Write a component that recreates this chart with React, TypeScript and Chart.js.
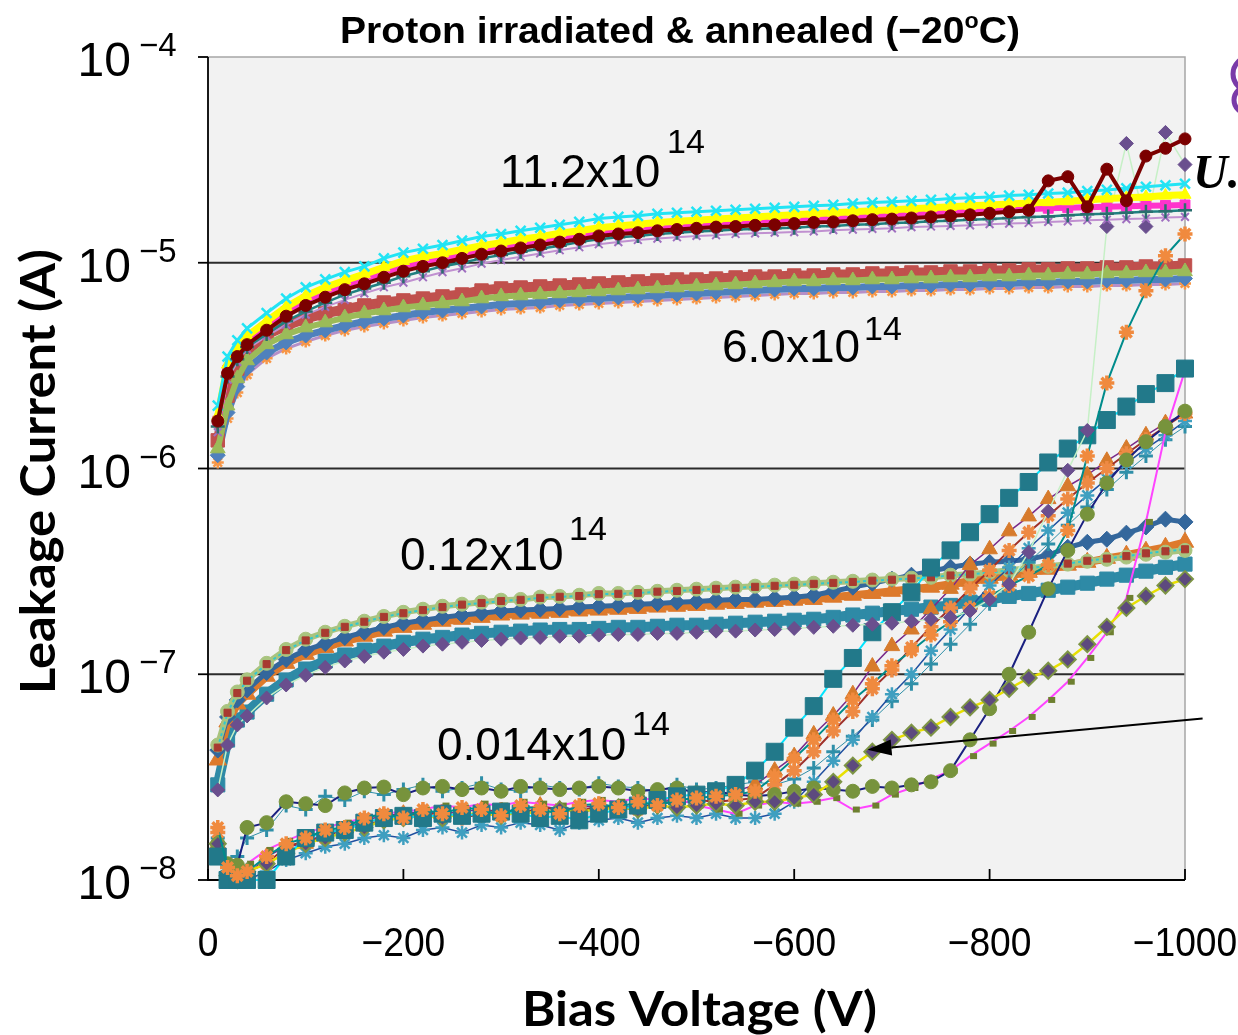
import React, { useEffect, useRef } from 'react';
import { Chart, registerables } from 'chart.js';

Chart.register(...registerables);

// ---------------- data ----------------
const VOLTAGE = [-10, -20, -30, -40, -60, -80, -100, -120, -140, -160, -180, -200, -220, -240, -260, -280, -300, -320, -340, -360, -380, -400, -420, -440, -460, -480, -500, -520, -540, -560, -580, -600, -620, -640, -660, -680, -700, -720, -740, -760, -780, -800, -820, -840, -860, -880, -900, -920, -940, -960, -980, -1000];

const Y_DECADES = [1e-8, 1e-7, 1e-6, 1e-5, 1e-4];
const Y_EXPONENTS = ['−8', '−7', '−6', '−5', '−4'];
const X_TICKS = [0, -200, -400, -600, -800, -1000];

// 11.2x10^14 group
const A1_CYAN = [2.02e-6, 3.5e-6, 4.2e-6, 4.8e-6, 5.7e-6, 6.7e-6, 7.6e-6, 8.3e-6, 9.0e-6, 9.6e-6, 1.05e-5, 1.12e-5, 1.17e-5, 1.22e-5, 1.28e-5, 1.34e-5, 1.38e-5, 1.43e-5, 1.48e-5, 1.53e-5, 1.58e-5, 1.64e-5, 1.67e-5, 1.69e-5, 1.73e-5, 1.75e-5, 1.77e-5, 1.79e-5, 1.81e-5, 1.83e-5, 1.85e-5, 1.87e-5, 1.89e-5, 1.91e-5, 1.94e-5, 1.96e-5, 1.98e-5, 2.0e-5, 2.02e-5, 2.05e-5, 2.07e-5, 2.09e-5, 2.12e-5, 2.14e-5, 2.17e-5, 2.19e-5, 2.23e-5, 2.26e-5, 2.3e-5, 2.34e-5, 2.38e-5, 2.42e-5];
const A2_YELLOW = [1.8e-6, 3.2e-6, 3.9e-6, 4.4e-6, 5.2e-6, 6.1e-6, 6.9e-6, 7.6e-6, 8.2e-6, 8.8e-6, 9.5e-6, 1.02e-5, 1.07e-5, 1.11e-5, 1.16e-5, 1.21e-5, 1.25e-5, 1.30e-5, 1.34e-5, 1.39e-5, 1.43e-5, 1.48e-5, 1.51e-5, 1.54e-5, 1.57e-5, 1.59e-5, 1.61e-5, 1.63e-5, 1.65e-5, 1.67e-5, 1.69e-5, 1.71e-5, 1.73e-5, 1.75e-5, 1.77e-5, 1.79e-5, 1.81e-5, 1.83e-5, 1.85e-5, 1.87e-5, 1.89e-5, 1.91e-5, 1.93e-5, 1.95e-5, 1.97e-5, 1.99e-5, 2.02e-5, 2.05e-5, 2.07e-5, 2.09e-5, 2.12e-5, 2.14e-5];
const A3_MAGENTA = [1.7e-6, 3.0e-6, 3.7e-6, 4.2e-6, 4.9e-6, 5.8e-6, 6.6e-6, 7.2e-6, 7.8e-6, 8.3e-6, 9.0e-6, 9.6e-6, 1.01e-5, 1.05e-5, 1.10e-5, 1.15e-5, 1.19e-5, 1.23e-5, 1.27e-5, 1.31e-5, 1.36e-5, 1.40e-5, 1.43e-5, 1.46e-5, 1.49e-5, 1.51e-5, 1.53e-5, 1.55e-5, 1.57e-5, 1.59e-5, 1.61e-5, 1.62e-5, 1.64e-5, 1.66e-5, 1.68e-5, 1.70e-5, 1.71e-5, 1.73e-5, 1.75e-5, 1.76e-5, 1.78e-5, 1.79e-5, 1.81e-5, 1.82e-5, 1.84e-5, 1.85e-5, 1.86e-5, 1.87e-5, 1.88e-5, 1.89e-5, 1.90e-5, 1.91e-5];
const A4_DARKRED = [1.7e-6, 2.9e-6, 3.5e-6, 4.0e-6, 4.7e-6, 5.5e-6, 6.2e-6, 6.8e-6, 7.4e-6, 7.9e-6, 8.5e-6, 9.1e-6, 9.6e-6, 1.00e-5, 1.05e-5, 1.10e-5, 1.14e-5, 1.18e-5, 1.22e-5, 1.26e-5, 1.30e-5, 1.35e-5, 1.38e-5, 1.40e-5, 1.43e-5, 1.45e-5, 1.47e-5, 1.49e-5, 1.50e-5, 1.52e-5, 1.53e-5, 1.55e-5, 1.57e-5, 1.58e-5, 1.60e-5, 1.62e-5, 1.63e-5, 1.65e-5, 1.67e-5, 1.69e-5, 1.71e-5, 1.74e-5, 1.77e-5, 1.80e-5, 2.50e-5, 2.62e-5, 1.87e-5, 2.85e-5, 2.00e-5, 3.30e-5, 3.60e-5, 4.00e-5];
const A5_TEAL = [1.6e-6, 2.8e-6, 3.4e-6, 3.9e-6, 4.5e-6, 5.2e-6, 5.8e-6, 6.4e-6, 7.0e-6, 7.5e-6, 8.0e-6, 8.6e-6, 9.1e-6, 9.6e-6, 1.00e-5, 1.05e-5, 1.09e-5, 1.13e-5, 1.17e-5, 1.21e-5, 1.26e-5, 1.30e-5, 1.33e-5, 1.35e-5, 1.38e-5, 1.40e-5, 1.42e-5, 1.43e-5, 1.45e-5, 1.46e-5, 1.47e-5, 1.48e-5, 1.50e-5, 1.51e-5, 1.53e-5, 1.54e-5, 1.56e-5, 1.57e-5, 1.59e-5, 1.60e-5, 1.62e-5, 1.63e-5, 1.65e-5, 1.67e-5, 1.68e-5, 1.70e-5, 1.72e-5, 1.73e-5, 1.75e-5, 1.77e-5, 1.78e-5, 1.80e-5];
const A6_PURPLE = [1.5e-6, 2.7e-6, 3.3e-6, 3.8e-6, 4.4e-6, 5.0e-6, 5.6e-6, 6.1e-6, 6.6e-6, 7.1e-6, 7.6e-6, 8.0e-6, 8.5e-6, 9.0e-6, 9.4e-6, 9.9e-6, 1.03e-5, 1.07e-5, 1.11e-5, 1.15e-5, 1.19e-5, 1.23e-5, 1.26e-5, 1.29e-5, 1.31e-5, 1.33e-5, 1.35e-5, 1.36e-5, 1.38e-5, 1.39e-5, 1.40e-5, 1.41e-5, 1.42e-5, 1.44e-5, 1.45e-5, 1.46e-5, 1.47e-5, 1.49e-5, 1.50e-5, 1.51e-5, 1.52e-5, 1.54e-5, 1.55e-5, 1.56e-5, 1.58e-5, 1.59e-5, 1.61e-5, 1.62e-5, 1.63e-5, 1.64e-5, 1.66e-5, 1.67e-5];

// 6.0x10^14 group
const B1_RED = [1.37e-6, 2.26e-6, 3.06e-6, 3.75e-6, 4.48e-6, 4.95e-6, 5.36e-6, 5.67e-6, 5.93e-6, 6.20e-6, 6.41e-6, 6.56e-6, 6.70e-6, 6.86e-6, 7.01e-6, 7.33e-6, 7.50e-6, 7.58e-6, 7.67e-6, 7.75e-6, 7.84e-6, 7.93e-6, 8.02e-6, 8.11e-6, 8.20e-6, 8.29e-6, 8.29e-6, 8.38e-6, 8.48e-6, 8.57e-6, 8.57e-6, 8.67e-6, 8.67e-6, 8.77e-6, 8.77e-6, 8.87e-6, 8.87e-6, 8.97e-6, 8.97e-6, 9.07e-6, 9.07e-6, 9.17e-6, 9.17e-6, 9.28e-6, 9.28e-6, 9.38e-6, 9.38e-6, 9.49e-6, 9.49e-6, 9.59e-6, 9.59e-6, 9.70e-6];
const B2_GREEN = [1.25e-6, 2.02e-6, 2.74e-6, 3.35e-6, 4.01e-6, 4.48e-6, 4.84e-6, 5.12e-6, 5.42e-6, 5.67e-6, 5.86e-6, 6.06e-6, 6.20e-6, 6.34e-6, 6.48e-6, 6.70e-6, 6.86e-6, 6.93e-6, 7.01e-6, 7.09e-6, 7.17e-6, 7.25e-6, 7.33e-6, 7.41e-6, 7.50e-6, 7.58e-6, 7.67e-6, 7.75e-6, 7.84e-6, 7.93e-6, 8.02e-6, 8.11e-6, 8.11e-6, 8.20e-6, 8.20e-6, 8.29e-6, 8.29e-6, 8.38e-6, 8.38e-6, 8.48e-6, 8.48e-6, 8.57e-6, 8.57e-6, 8.67e-6, 8.67e-6, 8.77e-6, 8.77e-6, 8.87e-6, 8.87e-6, 8.97e-6, 8.97e-6, 9.07e-6];
const B3_BLUE = [1.16e-6, 1.87e-6, 2.50e-6, 3.06e-6, 3.66e-6, 4.10e-6, 4.43e-6, 4.69e-6, 4.95e-6, 5.18e-6, 5.36e-6, 5.54e-6, 5.73e-6, 5.86e-6, 5.99e-6, 6.13e-6, 6.27e-6, 6.34e-6, 6.41e-6, 6.56e-6, 6.63e-6, 6.70e-6, 6.78e-6, 6.86e-6, 6.93e-6, 7.01e-6, 7.09e-6, 7.17e-6, 7.25e-6, 7.33e-6, 7.41e-6, 7.50e-6, 7.50e-6, 7.58e-6, 7.58e-6, 7.67e-6, 7.67e-6, 7.75e-6, 7.75e-6, 7.84e-6, 7.84e-6, 7.93e-6, 7.93e-6, 8.02e-6, 8.02e-6, 8.11e-6, 8.11e-6, 8.20e-6, 8.20e-6, 8.29e-6, 8.29e-6, 8.38e-6];
const B4_ORANGE = [1.07e-6, 1.75e-6, 2.34e-6, 2.86e-6, 3.43e-6, 3.83e-6, 4.14e-6, 4.43e-6, 4.69e-6, 4.90e-6, 5.07e-6, 5.24e-6, 5.42e-6, 5.54e-6, 5.67e-6, 5.80e-6, 5.93e-6, 5.99e-6, 6.06e-6, 6.20e-6, 6.27e-6, 6.34e-6, 6.41e-6, 6.48e-6, 6.56e-6, 6.63e-6, 6.70e-6, 6.78e-6, 6.86e-6, 6.93e-6, 7.01e-6, 7.09e-6, 7.09e-6, 7.17e-6, 7.17e-6, 7.25e-6, 7.25e-6, 7.33e-6, 7.33e-6, 7.41e-6, 7.41e-6, 7.50e-6, 7.50e-6, 7.58e-6, 7.58e-6, 7.67e-6, 7.67e-6, 7.75e-6, 7.75e-6, 7.84e-6, 7.84e-6, 7.93e-6];

// 0.12x10^14 group
const C1_LIGHTGREEN = [4.53e-8, 6.6e-8, 8.2e-8, 9.4e-8, 1.13e-7, 1.32e-7, 1.48e-7, 1.6e-7, 1.71e-7, 1.81e-7, 1.91e-7, 2.0e-7, 2.07e-7, 2.14e-7, 2.19e-7, 2.24e-7, 2.29e-7, 2.31e-7, 2.37e-7, 2.39e-7, 2.42e-7, 2.47e-7, 2.47e-7, 2.5e-7, 2.53e-7, 2.56e-7, 2.59e-7, 2.62e-7, 2.65e-7, 2.68e-7, 2.71e-7, 2.74e-7, 2.77e-7, 2.8e-7, 2.83e-7, 2.87e-7, 2.9e-7, 2.93e-7, 2.96e-7, 3.03e-7, 3.06e-7, 3.13e-7, 3.2e-7, 3.28e-7, 3.35e-7, 3.43e-7, 3.54e-7, 3.62e-7, 3.71e-7, 3.83e-7, 3.92e-7, 4.0e-7];
const C2_REDSQ = [4.4e-8, 6.5e-8, 8.1e-8, 9.3e-8, 1.12e-7, 1.31e-7, 1.46e-7, 1.59e-7, 1.7e-7, 1.8e-7, 1.9e-7, 1.98e-7, 2.05e-7, 2.12e-7, 2.18e-7, 2.22e-7, 2.27e-7, 2.3e-7, 2.35e-7, 2.38e-7, 2.4e-7, 2.45e-7, 2.46e-7, 2.48e-7, 2.52e-7, 2.54e-7, 2.57e-7, 2.6e-7, 2.63e-7, 2.66e-7, 2.69e-7, 2.72e-7, 2.75e-7, 2.78e-7, 2.81e-7, 2.85e-7, 2.88e-7, 2.92e-7, 2.96e-7, 3.02e-7, 3.06e-7, 3.12e-7, 3.2e-7, 3.28e-7, 3.36e-7, 3.45e-7, 3.56e-7, 3.65e-7, 3.75e-7, 3.87e-7, 3.96e-7, 4.05e-7];
const C3_BLUE = [4.28e-8, 6.2e-8, 7.5e-8, 8.4e-8, 1.02e-7, 1.18e-7, 1.31e-7, 1.41e-7, 1.51e-7, 1.6e-7, 1.69e-7, 1.77e-7, 1.83e-7, 1.89e-7, 1.94e-7, 1.98e-7, 2.03e-7, 2.05e-7, 2.07e-7, 2.09e-7, 2.12e-7, 2.14e-7, 2.16e-7, 2.19e-7, 2.21e-7, 2.24e-7, 2.26e-7, 2.29e-7, 2.31e-7, 2.31e-7, 2.34e-7, 2.37e-7, 2.42e-7, 2.53e-7, 2.65e-7, 2.77e-7, 2.9e-7, 3.03e-7, 3.17e-7, 3.31e-7, 3.43e-7, 3.5e-7, 3.54e-7, 3.62e-7, 3.79e-7, 4.14e-7, 4.38e-7, 4.53e-7, 4.85e-7, 5.2e-7, 5.67e-7, 5.5e-7];
const C4_ORANGE = [3.83e-8, 5.86e-8, 7.17e-8, 8.0e-8, 9.78e-8, 1.13e-7, 1.25e-7, 1.35e-7, 1.45e-7, 1.53e-7, 1.62e-7, 1.69e-7, 1.75e-7, 1.81e-7, 1.85e-7, 1.89e-7, 1.94e-7, 1.96e-7, 1.98e-7, 2.0e-7, 2.03e-7, 2.05e-7, 2.07e-7, 2.09e-7, 2.12e-7, 2.14e-7, 2.16e-7, 2.19e-7, 2.21e-7, 2.24e-7, 2.26e-7, 2.29e-7, 2.31e-7, 2.37e-7, 2.42e-7, 2.47e-7, 2.53e-7, 2.59e-7, 2.65e-7, 2.74e-7, 2.83e-7, 2.93e-7, 3.03e-7, 3.13e-7, 3.24e-7, 3.39e-7, 3.5e-7, 3.66e-7, 3.79e-7, 3.96e-7, 4.14e-7, 4.38e-7];
const C5_TEAL = [2.9e-8, 4.79e-8, 5.99e-8, 6.55e-8, 8.0e-8, 9.38e-8, 1.06e-7, 1.16e-7, 1.24e-7, 1.31e-7, 1.37e-7, 1.43e-7, 1.48e-7, 1.51e-7, 1.55e-7, 1.58e-7, 1.6e-7, 1.62e-7, 1.64e-7, 1.65e-7, 1.65e-7, 1.67e-7, 1.69e-7, 1.69e-7, 1.71e-7, 1.73e-7, 1.73e-7, 1.75e-7, 1.77e-7, 1.79e-7, 1.81e-7, 1.83e-7, 1.85e-7, 1.89e-7, 1.94e-7, 1.98e-7, 2.03e-7, 2.07e-7, 2.12e-7, 2.16e-7, 2.24e-7, 2.31e-7, 2.39e-7, 2.47e-7, 2.56e-7, 2.65e-7, 2.77e-7, 2.9e-7, 3.03e-7, 3.17e-7, 3.31e-7, 3.43e-7];
const C6_PURPLE = [2.74e-8, 4.53e-8, 5.67e-8, 6.27e-8, 7.67e-8, 8.87e-8, 9.89e-8, 1.08e-7, 1.16e-7, 1.22e-7, 1.28e-7, 1.32e-7, 1.37e-7, 1.4e-7, 1.43e-7, 1.46e-7, 1.48e-7, 1.5e-7, 1.51e-7, 1.53e-7, 1.53e-7, 1.55e-7, 1.56e-7, 1.56e-7, 1.58e-7, 1.58e-7, 1.6e-7, 1.62e-7, 1.62e-7, 1.64e-7, 1.65e-7, 1.67e-7, 1.69e-7, 1.71e-7, 1.73e-7, 1.75e-7, 1.77e-7, 1.81e-7, 1.85e-7, 1.89e-7, 2.03e-7, 2.31e-7, 2.74e-7, 3.92e-7, 6.2e-7, 9.8e-7, 1.53e-6, 1.5e-5, 3.8e-5, 1.5e-5, 4.3e-5, 3.0e-5];

// 0.014x10^14 group
const D1_TEALSQ = [1.3e-8, 1.0e-8, 1.0e-8, 1.0e-8, 1.0e-8, 1.3e-8, 1.6e-8, 1.7e-8, 1.75e-8, 1.9e-8, 2.0e-8, 2.05e-8, 2.0e-8, 2.1e-8, 2.05e-8, 2.1e-8, 2.15e-8, 2.1e-8, 2.0e-8, 2.05e-8, 1.95e-8, 2.1e-8, 2.2e-8, 2.3e-8, 2.45e-8, 2.55e-8, 2.6e-8, 2.7e-8, 2.9e-8, 3.4e-8, 4.2e-8, 5.5e-8, 7.0e-8, 9.5e-8, 1.2e-7, 1.6e-7, 2.0e-7, 2.5e-7, 3.3e-7, 4.0e-7, 4.9e-7, 6.0e-7, 7.2e-7, 8.6e-7, 1.07e-6, 1.25e-6, 1.45e-6, 1.72e-6, 2.0e-6, 2.3e-6, 2.6e-6, 3.06e-6];
const D2_STAR_TEALLINE = [1.8e-8, 1.15e-8, 1.05e-8, 1.1e-8, 1.3e-8, 1.5e-8, 1.6e-8, 1.75e-8, 1.8e-8, 2.0e-8, 2.1e-8, 2.0e-8, 2.2e-8, 2.1e-8, 2.25e-8, 2.2e-8, 2.05e-8, 2.3e-8, 2.2e-8, 2.1e-8, 2.3e-8, 2.35e-8, 2.25e-8, 2.4e-8, 2.3e-8, 2.45e-8, 2.5e-8, 2.55e-8, 2.6e-8, 2.7e-8, 3.2e-8, 3.9e-8, 4.8e-8, 6.0e-8, 7.5e-8, 9.0e-8, 1.1e-7, 1.3e-7, 1.55e-7, 1.8e-7, 2.1e-7, 2.4e-7, 2.7e-7, 3.0e-7, 3.4e-7, 5.0e-7, 1.15e-6, 2.6e-6, 4.6e-6, 7.3e-6, 1.08e-5, 1.38e-5];
const D3_STAR_BROWNLINE = [1.7e-8, 1.05e-8, 1.0e-8, 1.1e-8, 1.2e-8, 1.45e-8, 1.55e-8, 1.6e-8, 1.8e-8, 1.85e-8, 1.95e-8, 2.1e-8, 2.05e-8, 2.15e-8, 2.0e-8, 2.1e-8, 2.2e-8, 2.1e-8, 2.25e-8, 2.2e-8, 2.15e-8, 2.3e-8, 2.25e-8, 2.2e-8, 2.4e-8, 2.35e-8, 2.45e-8, 2.4e-8, 2.45e-8, 2.5e-8, 2.9e-8, 3.4e-8, 4.2e-8, 5.3e-8, 6.6e-8, 8.5e-8, 1.05e-7, 1.35e-7, 1.7e-7, 2.1e-7, 2.6e-7, 3.2e-7, 4.0e-7, 4.9e-7, 5.9e-7, 7.1e-7, 8.5e-7, 1.0e-6, 1.18e-6, 1.38e-6, 1.6e-6, 1.85e-6];
const D4_TRIANGLE = [1.5e-8, 1.0e-8, 1.0e-8, 1.05e-8, 1.3e-8, 1.45e-8, 1.5e-8, 1.7e-8, 1.75e-8, 1.95e-8, 2.05e-8, 2.1e-8, 2.15e-8, 2.1e-8, 2.15e-8, 2.2e-8, 2.15e-8, 2.2e-8, 2.3e-8, 2.2e-8, 2.25e-8, 2.3e-8, 2.2e-8, 2.35e-8, 2.4e-8, 2.45e-8, 2.5e-8, 2.55e-8, 2.7e-8, 2.9e-8, 3.4e-8, 4.0e-8, 5.1e-8, 6.3e-8, 8.0e-8, 1.09e-7, 1.37e-7, 1.65e-7, 2.07e-7, 2.6e-7, 3.4e-7, 4.05e-7, 4.95e-7, 5.85e-7, 7.1e-7, 8.2e-7, 9.3e-7, 1.09e-6, 1.25e-6, 1.45e-6, 1.66e-6, 1.85e-6];
const D5_LIGHTBLUE = [1.4e-8, 1.0e-8, 1.0e-8, 1.0e-8, 1.1e-8, 1.25e-8, 1.35e-8, 1.45e-8, 1.5e-8, 1.6e-8, 1.65e-8, 1.6e-8, 1.75e-8, 1.8e-8, 1.7e-8, 1.85e-8, 1.8e-8, 1.9e-8, 1.85e-8, 1.75e-8, 1.9e-8, 1.95e-8, 2.0e-8, 1.9e-8, 2.0e-8, 2.05e-8, 2.0e-8, 2.1e-8, 2.0e-8, 2.0e-8, 2.1e-8, 2.4e-8, 3.0e-8, 3.8e-8, 4.8e-8, 6.2e-8, 8.0e-8, 1.0e-7, 1.3e-7, 1.65e-7, 2.1e-7, 2.7e-7, 3.3e-7, 4.1e-7, 5.0e-7, 6.1e-7, 7.4e-7, 8.9e-7, 1.06e-6, 1.25e-6, 1.45e-6, 1.7e-6];
const D6_DIAMOND = [1.5e-8, 1.05e-8, 1.0e-8, 1.1e-8, 1.2e-8, 1.35e-8, 1.5e-8, 1.6e-8, 1.7e-8, 1.8e-8, 1.95e-8, 2.0e-8, 2.05e-8, 2.0e-8, 2.1e-8, 2.1e-8, 2.05e-8, 2.15e-8, 2.1e-8, 2.2e-8, 2.15e-8, 2.2e-8, 2.25e-8, 2.2e-8, 2.3e-8, 2.25e-8, 2.3e-8, 2.35e-8, 2.3e-8, 2.4e-8, 2.4e-8, 2.5e-8, 2.6e-8, 3.0e-8, 3.6e-8, 4.2e-8, 4.8e-8, 5.2e-8, 5.5e-8, 6.2e-8, 6.9e-8, 7.5e-8, 8.5e-8, 9.6e-8, 1.04e-7, 1.18e-7, 1.4e-7, 1.7e-7, 2.1e-7, 2.4e-7, 2.7e-7, 2.9e-7];
const D7_OLIVE = [1.5e-8, 1.2e-8, 1.18e-8, 1.8e-8, 1.9e-8, 2.4e-8, 2.35e-8, 2.3e-8, 2.65e-8, 2.8e-8, 2.83e-8, 2.6e-8, 2.8e-8, 2.85e-8, 2.75e-8, 2.8e-8, 2.7e-8, 2.85e-8, 2.8e-8, 2.75e-8, 2.8e-8, 2.85e-8, 2.8e-8, 2.7e-8, 2.75e-8, 2.8e-8, 2.65e-8, 2.7e-8, 2.6e-8, 2.55e-8, 2.6e-8, 2.7e-8, 2.8e-8, 2.75e-8, 2.7e-8, 2.85e-8, 2.8e-8, 2.9e-8, 3.0e-8, 3.4e-8, 4.8e-8, 6.8e-8, 1.0e-7, 1.6e-7, 2.6e-7, 4.0e-7, 6.0e-7, 8.5e-7, 1.1e-6, 1.35e-6, 1.6e-6, 1.9e-6];
const D8_TEALPLUS = [1.6e-8, 1.1e-8, 1.3e-8, 1.6e-8, 1.75e-8, 2.3e-8, 2.2e-8, 2.55e-8, 2.45e-8, 2.7e-8, 2.6e-8, 2.75e-8, 2.9e-8, 2.7e-8, 2.8e-8, 2.95e-8, 2.75e-8, 2.7e-8, 2.9e-8, 2.8e-8, 2.75e-8, 2.95e-8, 2.85e-8, 2.8e-8, 2.7e-8, 2.9e-8, 2.75e-8, 2.8e-8, 2.9e-8, 3.0e-8, 2.9e-8, 3.1e-8, 3.5e-8, 4.2e-8, 5.0e-8, 6.0e-8, 7.4e-8, 9.0e-8, 1.12e-7, 1.4e-7, 1.75e-7, 2.2e-7, 2.8e-7, 3.5e-7, 4.3e-7, 5.3e-7, 6.5e-7, 7.9e-7, 9.6e-7, 1.15e-6, 1.38e-6, 1.6e-6];
const D9_OLIVEDASH = [1.3e-8, 1.0e-8, 1.05e-8, 1.2e-8, 1.4e-8, 1.55e-8, 1.7e-8, 1.8e-8, 1.9e-8, 2.0e-8, 2.1e-8, 2.15e-8, 2.2e-8, 2.3e-8, 2.25e-8, 2.35e-8, 2.3e-8, 2.4e-8, 2.35e-8, 2.3e-8, 2.4e-8, 2.45e-8, 2.4e-8, 2.5e-8, 2.45e-8, 2.5e-8, 2.3e-8, 2.2e-8, 2.1e-8, 2.3e-8, 2.4e-8, 2.35e-8, 2.4e-8, 2.5e-8, 2.2e-8, 2.3e-8, 2.6e-8, 2.8e-8, 3.1e-8, 3.4e-8, 4.0e-8, 4.6e-8, 5.3e-8, 6.2e-8, 7.5e-8, 9.2e-8, 1.2e-7, 1.6e-7, 2.35e-7, 5.5e-7, 1.5e-6, 3.0e-6];

// arrow annotation (data coordinates: voltage, current)
const ARROW_TAIL = { v: -1018, i: 6.1e-8 };
const ARROW_TIP = { v: -675, i: 4.3e-8 };

// ---------------- styles ----------------
type Style = {
  data: number[];
  marker: string;
  r: number;
  fill: string;
  stroke: string;
  bw: number;
  line: string;
  lw: number;
  dash?: number[];
};

// first entry is drawn on top
const SERIES: Style[] = [
  { data: A4_DARKRED, marker: 'circle', r: 6, fill: '#7b0000', stroke: '#7b0000', bw: 1, line: '#7b0000', lw: 4 },
  { data: A5_TEAL, marker: 'cross', r: 7, fill: '#2a6e6e', stroke: '#2a6e6e', bw: 2.5, line: '#1f8080', lw: 2.5 },
  { data: A1_CYAN, marker: 'crossRot', r: 7, fill: '#22e4f4', stroke: '#22e4f4', bw: 2.5, line: '#22e4f4', lw: 3 },
  { data: A2_YELLOW, marker: 'triangle', r: 7, fill: '#ffff00', stroke: '#ffff00', bw: 1, line: '#ffff00', lw: 7 },
  { data: A3_MAGENTA, marker: 'rect', r: 7, fill: '#ff33cc', stroke: '#ff33cc', bw: 1, line: '#ff33cc', lw: 6 },
  { data: A6_PURPLE, marker: 'crossRot', r: 5.5, fill: '#a070c0', stroke: '#a070c0', bw: 2, line: '#c090d0', lw: 2 },
  { data: C6_PURPLE, marker: 'rectRot', r: 7, fill: '#6a4f8e', stroke: '#6a4f8e', bw: 1, line: '#c6f0c6', lw: 1.5 },
  { data: D2_STAR_TEALLINE, marker: 'star', r: 7.5, fill: '#f79646', stroke: '#f08a3e', bw: 3.5, line: '#008c8c', lw: 2 },
  { data: D1_TEALSQ, marker: 'rect', r: 12, fill: '#22798a', stroke: '#22798a', bw: 1, line: '#00e5ff', lw: 2 },
  { data: D6_DIAMOND, marker: 'rectRot', r: 8, fill: '#5d4a7e', stroke: '#7d9445', bw: 2, line: '#e8e000', lw: 2.5 },
  { data: D7_OLIVE, marker: 'circle', r: 7, fill: '#77933c', stroke: '#77933c', bw: 1, line: '#1a2080', lw: 2 },
  { data: D9_OLIVEDASH, marker: 'dash', r: 7, fill: '#6e8030', stroke: '#6e8030', bw: 6, line: '#ff44ff', lw: 2 },
  { data: D3_STAR_BROWNLINE, marker: 'star', r: 7.5, fill: '#ee8a44', stroke: '#ee8a44', bw: 3.5, line: '#a0302a', lw: 2 },
  { data: D4_TRIANGLE, marker: 'triangle', r: 9, fill: '#d77b2c', stroke: '#d77b2c', bw: 1, line: '#7a2a8a', lw: 1.5 },
  { data: D5_LIGHTBLUE, marker: 'star', r: 7, fill: '#3f9fc0', stroke: '#3f9fc0', bw: 2.5, line: '#2050a0', lw: 1.5 },
  { data: D8_TEALPLUS, marker: 'cross', r: 7, fill: '#2f8fa8', stroke: '#2f8fa8', bw: 3, line: '#2f8fa8', lw: 1 },
  { data: C2_REDSQ, marker: 'rect', r: 5, fill: '#a83a30', stroke: '#a83a30', bw: 1, line: '#30c8d0', lw: 2, dash: [3, 3] },
  { data: C1_LIGHTGREEN, marker: 'circle', r: 7, fill: '#a9c47f', stroke: '#a9c47f', bw: 1, line: '#a9c47f', lw: 6 },
  { data: C3_BLUE, marker: 'rectRot', r: 8, fill: '#34679c', stroke: '#34679c', bw: 1, line: '#34679c', lw: 5 },
  { data: C4_ORANGE, marker: 'triangle', r: 10, fill: '#dd7a2c', stroke: '#dd7a2c', bw: 1, line: '#dd7a2c', lw: 8 },
  { data: C5_TEAL, marker: 'rect', r: 10, fill: '#2e8aa6', stroke: '#2e8aa6', bw: 1, line: '#2e8aa6', lw: 10 },
  { data: B2_GREEN, marker: 'triangle', r: 8.5, fill: '#9bbb59', stroke: '#9bbb59', bw: 1, line: '#9bbb59', lw: 6 },
  { data: B1_RED, marker: 'rect', r: 9.5, fill: '#c0504d', stroke: '#c0504d', bw: 1, line: '#c0504d', lw: 10 },
  { data: B3_BLUE, marker: 'rectRot', r: 7.5, fill: '#4f81bd', stroke: '#4f81bd', bw: 1, line: '#4f81bd', lw: 7 },
  { data: B4_ORANGE, marker: 'star', r: 6, fill: '#f79646', stroke: '#f79646', bw: 2.5, line: '#b58fc8', lw: 3 },
];

const SANS = '"Liberation Sans", Arial, sans-serif';
const TITLE_FONT = '"Lato", "Liberation Sans", sans-serif';

type Run = { text: string; font: string; dy?: number };

function drawRuns(ctx: CanvasRenderingContext2D, runs: Run[], x: number, baseline: number, width?: number, align: 'left' | 'center' = 'left', scale = 1) {
  let total = 0;
  const widths = runs.map((r) => {
    ctx.font = r.font;
    const w = ctx.measureText(r.text).width;
    total += w;
    return w;
  });
  const sx = width ? width / total : scale;
  const start = align === 'center' ? x - (total * sx) / 2 : x;
  ctx.save();
  ctx.translate(start, baseline);
  ctx.scale(sx, 1);
  ctx.textAlign = 'left';
  ctx.textBaseline = 'alphabetic';
  let cx = 0;
  runs.forEach((r, i) => {
    ctx.font = r.font;
    ctx.fillText(r.text, cx, r.dy || 0);
    cx += widths[i];
  });
  ctx.restore();
}

const decorPlugin = {
  id: 'decor',
  beforeDatasetsDraw(chart: any) {
    const { ctx, chartArea: ca, scales } = chart;
    const y = scales.y;
    const x = scales.x;
    ctx.save();
    ctx.fillStyle = '#f2f2f2';
    ctx.fillRect(ca.left, ca.top, ca.right - ca.left, ca.bottom - ca.top);
    ctx.strokeStyle = '#2b2b2b';
    ctx.lineWidth = 1.8;
    Y_DECADES.slice(1, -1).forEach((v) => {
      const py = y.getPixelForValue(v);
      ctx.beginPath();
      ctx.moveTo(ca.left, py);
      ctx.lineTo(ca.right, py);
      ctx.stroke();
    });
    ctx.strokeStyle = '#a6a6a6';
    ctx.lineWidth = 1.5;
    ctx.beginPath();
    ctx.moveTo(ca.left, ca.top);
    ctx.lineTo(ca.right, ca.top);
    ctx.lineTo(ca.right, ca.bottom);
    ctx.stroke();
    ctx.strokeStyle = '#000';
    ctx.lineWidth = 1.8;
    ctx.beginPath();
    ctx.moveTo(ca.left, ca.top);
    ctx.lineTo(ca.left, ca.bottom);
    ctx.lineTo(ca.right, ca.bottom);
    ctx.stroke();
    Y_DECADES.forEach((v) => {
      const py = y.getPixelForValue(v);
      ctx.beginPath();
      ctx.moveTo(ca.left - 10, py);
      ctx.lineTo(ca.left, py);
      ctx.stroke();
    });
    X_TICKS.forEach((v) => {
      const px = x.getPixelForValue(v);
      ctx.beginPath();
      ctx.moveTo(px, ca.bottom);
      ctx.lineTo(px, ca.bottom - 11);
      ctx.stroke();
    });
    ctx.restore();
  },
  afterDraw(chart: any) {
    const { ctx, chartArea: ca, scales } = chart;
    const x = scales.x;
    const y = scales.y;
    ctx.save();
    ctx.fillStyle = '#000';

    Y_DECADES.forEach((v, i) => {
      const py = y.getPixelForValue(v);
      ctx.textBaseline = 'alphabetic';
      ctx.font = `48px ${SANS}`;
      ctx.textAlign = 'right';
      ctx.fillText('10', 131, py + 19);
      ctx.font = `33px ${SANS}`;
      ctx.textAlign = 'left';
      ctx.fillText(Y_EXPONENTS[i], 139, py - 1);
    });

    X_TICKS.forEach((v) => {
      const px = x.getPixelForValue(v);
      const label = v === 0 ? '0' : '−' + Math.abs(v);
      drawRuns(ctx, [{ text: label, font: `40px ${SANS}` }], px, 956, undefined, 'center', 0.93);
    });

    drawRuns(ctx, [{ text: 'Bias Voltage (V)', font: `bold 48px ${TITLE_FONT}` }], (ca.left + ca.right) / 2 + 3, 1026, 355, 'center');
    ctx.save();
    ctx.translate(55, (ca.top + ca.bottom) / 2 + 3);
    ctx.rotate(-Math.PI / 2);
    drawRuns(ctx, [{ text: 'Leakage Current (A)', font: `bold 48px ${TITLE_FONT}` }], 0, 0, 445, 'center');
    ctx.restore();

    drawRuns(
      ctx,
      [
        { text: 'Proton irradiated & annealed (−20', font: `bold 37px ${SANS}` },
        { text: 'o', font: `bold 22px ${SANS}`, dy: -15 },
        { text: 'C)', font: `bold 37px ${SANS}` },
      ],
      680,
      43,
      680,
      'center'
    );

    const labels: [string, number, number, number, number][] = [
      ['11.2x10', 500, 187, 667, 153],
      ['6.0x10', 722, 362, 864, 340],
      ['0.12x10', 400, 570, 569, 540],
      ['0.014x10', 437, 760, 632, 735],
    ];
    labels.forEach(([t, lx, lb, sx, sb]) => {
      drawRuns(ctx, [{ text: t, font: `46px ${SANS}` }], lx, lb);
      drawRuns(ctx, [{ text: '14', font: `34px ${SANS}` }], sx, sb);
    });

    const tx = x.getPixelForValue(ARROW_TAIL.v);
    const ty = y.getPixelForValue(ARROW_TAIL.i);
    const hx = x.getPixelForValue(ARROW_TIP.v);
    const hy = y.getPixelForValue(ARROW_TIP.i);
    const len = Math.hypot(hx - tx, hy - ty);
    const ux = (hx - tx) / len;
    const uy = (hy - ty) / len;
    const bx = hx - ux * 24;
    const by = hy - uy * 24;
    ctx.strokeStyle = '#000';
    ctx.lineWidth = 2;
    ctx.beginPath();
    ctx.moveTo(tx, ty);
    ctx.lineTo(bx, by);
    ctx.stroke();
    ctx.beginPath();
    ctx.moveTo(hx, hy);
    ctx.lineTo(bx - uy * 8, by + ux * 8);
    ctx.lineTo(bx + uy * 8, by - ux * 8);
    ctx.closePath();
    ctx.fill();

    ctx.font = 'italic bold 48px "Liberation Serif", serif';
    ctx.textAlign = 'left';
    ctx.fillText('U.', 1193, 188);
    ctx.strokeStyle = '#7a3aa8';
    ctx.lineWidth = 5;
    ctx.beginPath();
    ctx.arc(1250, 74, 17, 0, Math.PI * 2);
    ctx.stroke();
    ctx.beginPath();
    ctx.arc(1247, 100, 13, 0, Math.PI * 2);
    ctx.stroke();

    ctx.restore();
  },
};

export default function App() {
  const canvasRef = useRef<HTMLCanvasElement | null>(null);

  useEffect(() => {
    const canvas = canvasRef.current;
    if (!canvas) return;
    const datasets = SERIES.map((s) => ({
      data: VOLTAGE.map((v, i) => ({ x: v, y: s.data[i] })),
      pointStyle: s.marker,
      pointRadius: s.r,
      pointBackgroundColor: s.fill,
      pointBorderColor: s.stroke,
      pointBorderWidth: s.bw,
      borderColor: s.line,
      borderWidth: s.lw,
      borderDash: s.dash || [],
      showLine: s.lw > 0,
      fill: false,
      tension: 0,
      clip: false as any,
    }));
    const chart = new Chart(canvas, {
      type: 'line',
      data: { datasets },
      options: {
        animation: false,
        responsive: false,
        devicePixelRatio: 1,
        events: [],
        layout: { padding: { left: 208, right: 53, top: 57, bottom: 155 } },
        plugins: { legend: { display: false }, tooltip: { enabled: false }, title: { display: false } },
        scales: {
          x: { type: 'linear', min: -1000, max: 0, reverse: true, display: false },
          y: { type: 'logarithmic', min: 1e-8, max: 1e-4, display: false },
        },
      },
      plugins: [decorPlugin],
    } as any);
    return () => chart.destroy();
  }, []);

  return (
    <div style={{ position: 'fixed', left: 0, top: 0, width: 1238, height: 1035, background: '#fff' }}>
      <canvas ref={canvasRef} width={1238} height={1035} style={{ display: 'block' }} />
    </div>
  );
}
